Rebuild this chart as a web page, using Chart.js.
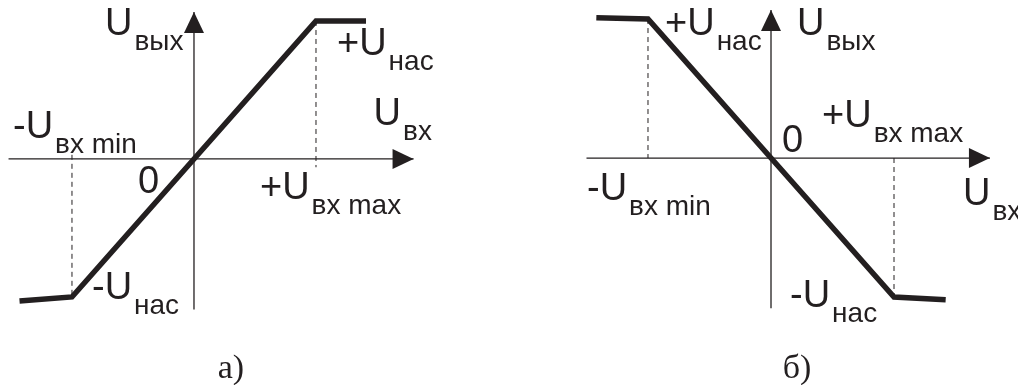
<!DOCTYPE html>
<html lang="ru">
<head>
<meta charset="utf-8">
<title>Передаточные характеристики ОУ</title>
<script src="https://cdn.jsdelivr.net/npm/chart.js@4.4.0/dist/chart.umd.min.js"></script>
<style>
  html, body { margin: 0; padding: 0; background: #fff; }
  #wrap { display: flex; width: 1018px; height: 385px; }
  canvas { display: block; }
</style>
</head>
<body>
<div id="wrap">
  <canvas id="chartA" width="509" height="385"></canvas>
  <canvas id="chartB" width="509" height="385"></canvas>
</div>
<script>
// а) неинвертирующее включение: Uвх -> Uвых
var inA  = [-1.43, -1, 0, 1, 1.41];
var outA = [-1.03, -1, 0, 1, 1];

// б) инвертирующее включение
var inB  = [-1.42, -1, 0, 1, 1.42];
var outB = [1.01, 1, 0, -1, -1.02];

// границы линейного участка и уровень насыщения
var uInMin = -1, uInMax = 1, uSat = 1;

// концы осей (со стрелками)
var axisA = { x: [-1.52, 1.8], y: [-1.09, 1.065] };
var axisB = { x: [-1.5, 1.78], y: [-1.08, 1.065] };

var ink = '#231f20';
var mainFont = '38px "Liberation Sans", Arial, sans-serif';
var subFont = '28px "Liberation Sans", Arial, sans-serif';
var capFont = '34px "Liberation Serif", "Times New Roman", serif';

var labelsA = [
  { main: 'U',  sub: 'вых',    at: [0, axisA.y[1]], dx: -89, dy: 23 },
  { main: '+U', sub: 'нас',    at: [uInMax, uSat],  dx: 21,  dy: 34 },
  { main: 'U',  sub: 'вх',     at: [axisA.x[1], 0], dx: -40, dy: -34 },
  { main: '-U', sub: 'вх min', at: [uInMin, 0],     dx: -59, dy: -21 },
  { main: '0',  sub: '',       at: [0, 0],          dx: -56, dy: 34 },
  { main: '+U', sub: 'вх max', at: [uInMax, 0],     dx: -56, dy: 40 },
  { main: '-U', sub: 'нас',    at: [uInMin, -uSat], dx: 20,  dy: 2 }
];

var labelsB = [
  { main: '+U', sub: 'нас',    at: [uInMin, uSat],  dx: 17,   dy: 16 },
  { main: 'U',  sub: 'вых',    at: [0, axisB.y[1]], dx: 26,   dy: 25 },
  { main: '+U', sub: 'вх max', at: [uInMax, 0],     dx: -72,  dy: -31 },
  { main: '0',  sub: '',       at: [0, 0],          dx: 11,   dy: -6 },
  { main: '-U', sub: 'вх min', at: [uInMin, 0],     dx: -61,  dy: 42 },
  { main: 'U',  sub: 'вх',     at: [axisB.x[1], 0], dx: -27,  dy: 47 },
  { main: '-U', sub: 'нас',    at: [uInMax, -uSat], dx: -104, dy: 10 }
];

function pts(xs, ys) {
    var out = [];
    for (let i = 0; i < xs.length; i++) {
        out.push({ x: xs[i], y: ys[i] });
    }
    return out;
}

// стрелки осей, подписи с индексами и подпись рисунка
function makeSketch(labels, caption, capDx) {
    return {
        id: 'sketch',
        afterDatasetsDraw: function(chart) {
            var ctx = chart.ctx;
            var xs = chart.scales.x, ys = chart.scales.y;
            ctx.save();
            ctx.fillStyle = ink;

            chart.data.datasets.forEach(function(ds, i) {
                if (!ds.arrow) return;
                var p = chart.getDatasetMeta(i).data;
                var tip = p[p.length - 1], from = p[0];
                var ang = Math.atan2(tip.y - from.y, tip.x - from.x);
                ctx.save();
                ctx.translate(tip.x, tip.y);
                ctx.rotate(ang);
                ctx.beginPath();
                ctx.moveTo(0, 0);
                ctx.lineTo(-21, -10);
                ctx.lineTo(-21, 10);
                ctx.closePath();
                ctx.fill();
                ctx.restore();
            });

            ctx.textAlign = 'left';
            ctx.textBaseline = 'alphabetic';
            labels.forEach(function(l) {
                var x = xs.getPixelForValue(l.at[0]) + l.dx;
                var y = ys.getPixelForValue(l.at[1]) + l.dy;
                ctx.font = mainFont;
                ctx.fillText(l.main, x, y);
                if (l.sub) {
                    var w = ctx.measureText(l.main).width;
                    ctx.font = subFont;
                    ctx.fillText(l.sub, x + w + 2, y + 15);
                }
            });

            ctx.font = capFont;
            ctx.textAlign = 'center';
            ctx.fillText(caption, xs.getPixelForValue(0) + capDx, 378);
            ctx.restore();
        }
    };
}

function plotCharacteristic(dest, xIn, yOut, axis, dashes, range, labels, caption, capDx) {
    var ctx = document.getElementById(dest).getContext('2d');
    var sets = [{
        data: pts(xIn, yOut),
        borderColor: ink,
        borderWidth: 5.5,
        borderJoinStyle: 'miter',
        order: 0
    }, {
        data: pts(axis.x, [0, 0]),
        borderColor: ink,
        borderWidth: 1.3,
        arrow: true,
        order: 2
    }, {
        data: pts([0, 0], axis.y),
        borderColor: ink,
        borderWidth: 1.3,
        arrow: true,
        order: 2
    }];
    dashes.forEach(function(d) {
        sets.push({
            data: pts([d[0], d[0]], [d[1], d[2]]),
            borderColor: ink,
            borderWidth: 1,
            borderDash: [5, 4],
            order: 1
        });
    });
    sets.forEach(function(s) {
        s.showLine = true;
        s.pointRadius = 0;
        s.pointHoverRadius = 0;
        s.fill = false;
        s.tension = 0;
    });

    return new Chart(ctx, {
        type: 'scatter',
        data: { datasets: sets },
        options: {
            responsive: false,
            animation: false,
            events: [],
            layout: { padding: 0 },
            scales: {
                x: { type: 'linear', display: false, min: range[0], max: range[1] },
                y: { type: 'linear', display: false, min: range[2], max: range[3] }
            },
            plugins: {
                legend: { display: false },
                tooltip: { enabled: false }
            }
        },
        plugins: [makeSketch(labels, caption, capDx)]
    });
}

plotCharacteristic('chartA', inA, outA, axisA,
    [[uInMin, 0.03, -uSat], [uInMax, uSat, -0.06]],
    [-1.590, 2.582, -1.638, 1.152], labelsA, 'а)', 37);

plotCharacteristic('chartB', inB, outB, axisB,
    [[uInMin, uSat, 0], [uInMax, 0, -uSat]],
    [-2.130, 2.008, -1.633, 1.137], labelsB, 'б)', 26);
</script>
</body>
</html>
